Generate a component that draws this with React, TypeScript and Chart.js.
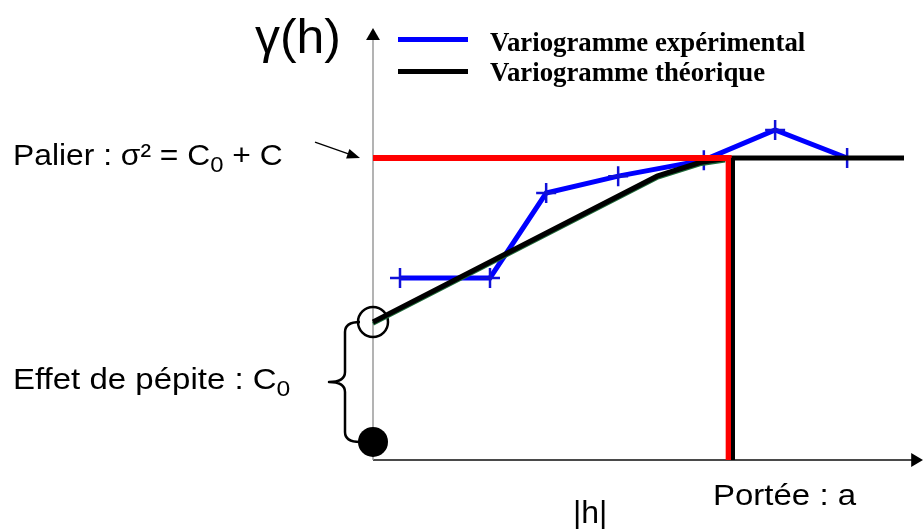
import React, { useEffect, useRef } from 'react';
import { Chart, registerables } from 'chart.js';

Chart.register(...registerables);

// Experimental variogram (lag |h|, gamma)
const expH = [0.75, 3.25, 4.81, 6.81, 9.19, 11.17, 13.17];
const expGamma = [6.03, 6.03, 8.84, 9.4, 9.93, 10.93, 10.0];
// Theoretical variogram
const theoH = [0, 7.89, 9.08, 9.78, 10, 14.75];
const theoGamma = [4.57, 9.4, 9.85, 9.98, 10, 10];
// Key values
const nugget = 4.57;
const sill = 10;
const rangeA = 10;
const redRange = 9.88;
const originMarker = 0.6;
const axisTopGamma = 14.04;
const axisEndH = 15.06;

const seriesLabels = ['Variogramme expérimental', 'Variogramme théorique'];
const seriesColors = ['#0000ff', '#000000'];

const xMax = 15.2;
const yMax = 14.24;

const SANS = "'Liberation Sans', Arial, sans-serif";
const SERIF = "'Liberation Serif', 'Times New Roman', serif";

const annotPlugin = {
  id: 'annot',
  afterDraw(chart: any) {
    const { ctx, scales } = chart;
    const xs = scales.x;
    const ys = scales.y;
    const x0 = xs.getPixelForValue(0);
    ctx.save();
    // brace for nugget effect
    const yTop = ys.getPixelForValue(nugget);
    const yBot = ys.getPixelForValue(originMarker);
    const xr = x0 - 13;
    const xm = x0 - 28;
    const xt = x0 - 44;
    const mid = (yTop + yBot) / 2;
    const r = 10;
    ctx.strokeStyle = '#000';
    ctx.lineWidth = 2.5;
    ctx.lineJoin = 'round';
    ctx.beginPath();
    ctx.moveTo(xr, yTop);
    ctx.quadraticCurveTo(xm, yTop, xm, yTop + r);
    ctx.lineTo(xm, mid - r);
    ctx.quadraticCurveTo(xm, mid, xt, mid);
    ctx.quadraticCurveTo(xm, mid, xm, mid + r);
    ctx.lineTo(xm, yBot - r);
    ctx.quadraticCurveTo(xm, yBot, xr, yBot);
    ctx.stroke();
    // arrow pointing at the sill
    const ySill = ys.getPixelForValue(sill);
    const tipX = x0 - 13;
    const tipY = ySill;
    const sx = x0 - 58;
    const sy = ySill - 16;
    const ang = Math.atan2(tipY - sy, tipX - sx);
    ctx.lineWidth = 1.3;
    ctx.beginPath();
    ctx.moveTo(sx, sy);
    ctx.lineTo(tipX - Math.cos(ang) * 10, tipY - Math.sin(ang) * 10);
    ctx.stroke();
    ctx.fillStyle = '#000';
    ctx.beginPath();
    ctx.moveTo(tipX, tipY);
    ctx.lineTo(tipX - Math.cos(ang) * 13 + Math.sin(ang) * 5, tipY - Math.sin(ang) * 13 - Math.cos(ang) * 5);
    ctx.lineTo(tipX - Math.cos(ang) * 13 - Math.sin(ang) * 5, tipY - Math.sin(ang) * 13 + Math.cos(ang) * 5);
    ctx.closePath();
    ctx.fill();
    ctx.restore();
  },
};

const pts = (xs: number[], ys: number[]) => xs.map((x, i) => ({ x, y: ys[i] }));

export default function App() {
  const ref = useRef<HTMLCanvasElement>(null);
  useEffect(() => {
    const canvas = ref.current;
    if (!canvas) return;
    const slopeCount = theoH.findIndex((h) => h >= rangeA);
    const chart = new Chart(canvas, {
      type: 'scatter',
      data: {
        datasets: [
          {
            label: 'a',
            data: [{ x: rangeA, y: sill }, { x: rangeA, y: 0 }],
            showLine: true,
            borderColor: '#000',
            borderWidth: 4,
            pointRadius: 0,
            order: 0,
            clip: false,
          } as any,
          {
            label: 'palier',
            data: [{ x: 0, y: sill }, { x: redRange, y: sill }, { x: redRange, y: 0 }],
            showLine: true,
            borderColor: '#ff0000',
            borderWidth: 6,
            borderJoinStyle: 'miter',
            pointRadius: 0,
            order: 1,
            clip: false,
          },
          {
            label: seriesLabels[1],
            data: pts(theoH, theoGamma),
            showLine: true,
            borderColor: seriesColors[1],
            borderWidth: 5,
            pointRadius: 0,
            order: 2,
            clip: false,
          },
          {
            label: 'shade',
            data: pts(theoH.slice(0, slopeCount), theoGamma.slice(0, slopeCount)).map((p) => ({ x: p.x, y: p.y - 0.06 })),
            showLine: true,
            borderColor: '#1f6b3a',
            borderWidth: 4,
            pointRadius: 0,
            order: 3,
            clip: false,
          },
          {
            label: seriesLabels[0],
            data: pts(expH, expGamma),
            showLine: true,
            borderColor: seriesColors[0],
            borderWidth: 5,
            pointStyle: 'cross',
            pointRadius: 10,
            pointBorderWidth: 2.5,
            pointBorderColor: '#1010d8',
            order: 4,
            clip: false,
          },
          {
            label: 'nugget',
            data: [{ x: 0, y: nugget }],
            showLine: false,
            pointRadius: 15,
            pointBorderWidth: 2.5,
            pointBorderColor: '#000',
            pointBackgroundColor: 'rgba(0,0,0,0)',
            order: 5,
            clip: false,
          },
          {
            label: 'origin',
            data: [{ x: 0, y: originMarker }],
            showLine: false,
            pointRadius: 15,
            pointBorderWidth: 0,
            pointBackgroundColor: '#000',
            order: 6,
            clip: false,
          },
          {
            label: 'yaxis',
            data: [{ x: 0, y: 0 }, { x: 0, y: axisTopGamma }],
            showLine: true,
            borderColor: '#9a9a9a',
            borderWidth: 1.5,
            pointStyle: 'triangle',
            pointRadius: [0, 8],
            pointBorderWidth: 0,
            pointBackgroundColor: '#000',
            order: 8,
            clip: false,
          },
          {
            label: 'xaxis',
            data: [{ x: 0, y: 0 }, { x: axisEndH, y: 0 }],
            showLine: true,
            borderColor: '#4a4a4a',
            borderWidth: 2.2,
            pointStyle: 'triangle',
            pointRadius: [0, 8],
            pointRotation: 90,
            pointBorderWidth: 0,
            pointBackgroundColor: '#000',
            order: 9,
            clip: false,
          },
        ],
      },
      options: {
        animation: false,
        responsive: false,
        events: [],
        layout: { autoPadding: false, padding: { left: 373, right: 2.8, top: 30, bottom: 69 } },
        scales: {
          x: { type: 'linear', min: 0, max: xMax, display: false },
          y: { type: 'linear', min: 0, max: yMax, display: false },
        },
        plugins: { legend: { display: false }, tooltip: { enabled: false } },
      },
      plugins: [annotPlugin],
    });
    return () => chart.destroy();
  }, []);

  const sansText = (size: number, sx: number): React.CSSProperties => ({
    position: 'absolute',
    fontFamily: SANS,
    fontSize: size,
    lineHeight: 1,
    whiteSpace: 'nowrap',
    color: '#000',
    transform: `scaleX(${sx})`,
    transformOrigin: 'left top',
  });
  const sub: React.CSSProperties = { fontSize: '0.75em', position: 'relative', top: '0.3em' };

  return (
    <div style={{ position: 'fixed', left: 0, top: 0, width: 923, height: 529, background: '#fff', overflow: 'hidden' }}>
      <canvas ref={ref} width={923} height={529} style={{ display: 'block', position: 'absolute', left: 0, top: 0 }} />
      <div style={{ ...sansText(48, 1.04), left: 255, top: 13 }}>γ(h)</div>
      {seriesLabels.map((lab, i) => (
        <React.Fragment key={lab}>
          <div style={{ position: 'absolute', left: 398, top: 37 + i * 32, width: 70, height: 5, background: seriesColors[i] }} />
          <div
            style={{
              position: 'absolute',
              left: 490,
              top: 29 + i * 30,
              fontFamily: SERIF,
              fontWeight: 'bold',
              fontSize: 26.8,
              lineHeight: 1,
              whiteSpace: 'nowrap',
            }}
          >
            {lab}
          </div>
        </React.Fragment>
      ))}
      <div style={{ ...sansText(30, 1.06), left: 13, top: 140 }}>
        Palier : σ² = C<span style={sub}>0</span> + C
      </div>
      <div style={{ ...sansText(30, 1.1), left: 13, top: 364 }}>
        Effet de pépite : C<span style={sub}>0</span>
      </div>
      <div style={{ ...sansText(30, 1.1), left: 713, top: 480 }}>Portée : a</div>
      <div style={{ ...sansText(32, 1), left: 573, top: 496 }}>|h|</div>
    </div>
  );
}
